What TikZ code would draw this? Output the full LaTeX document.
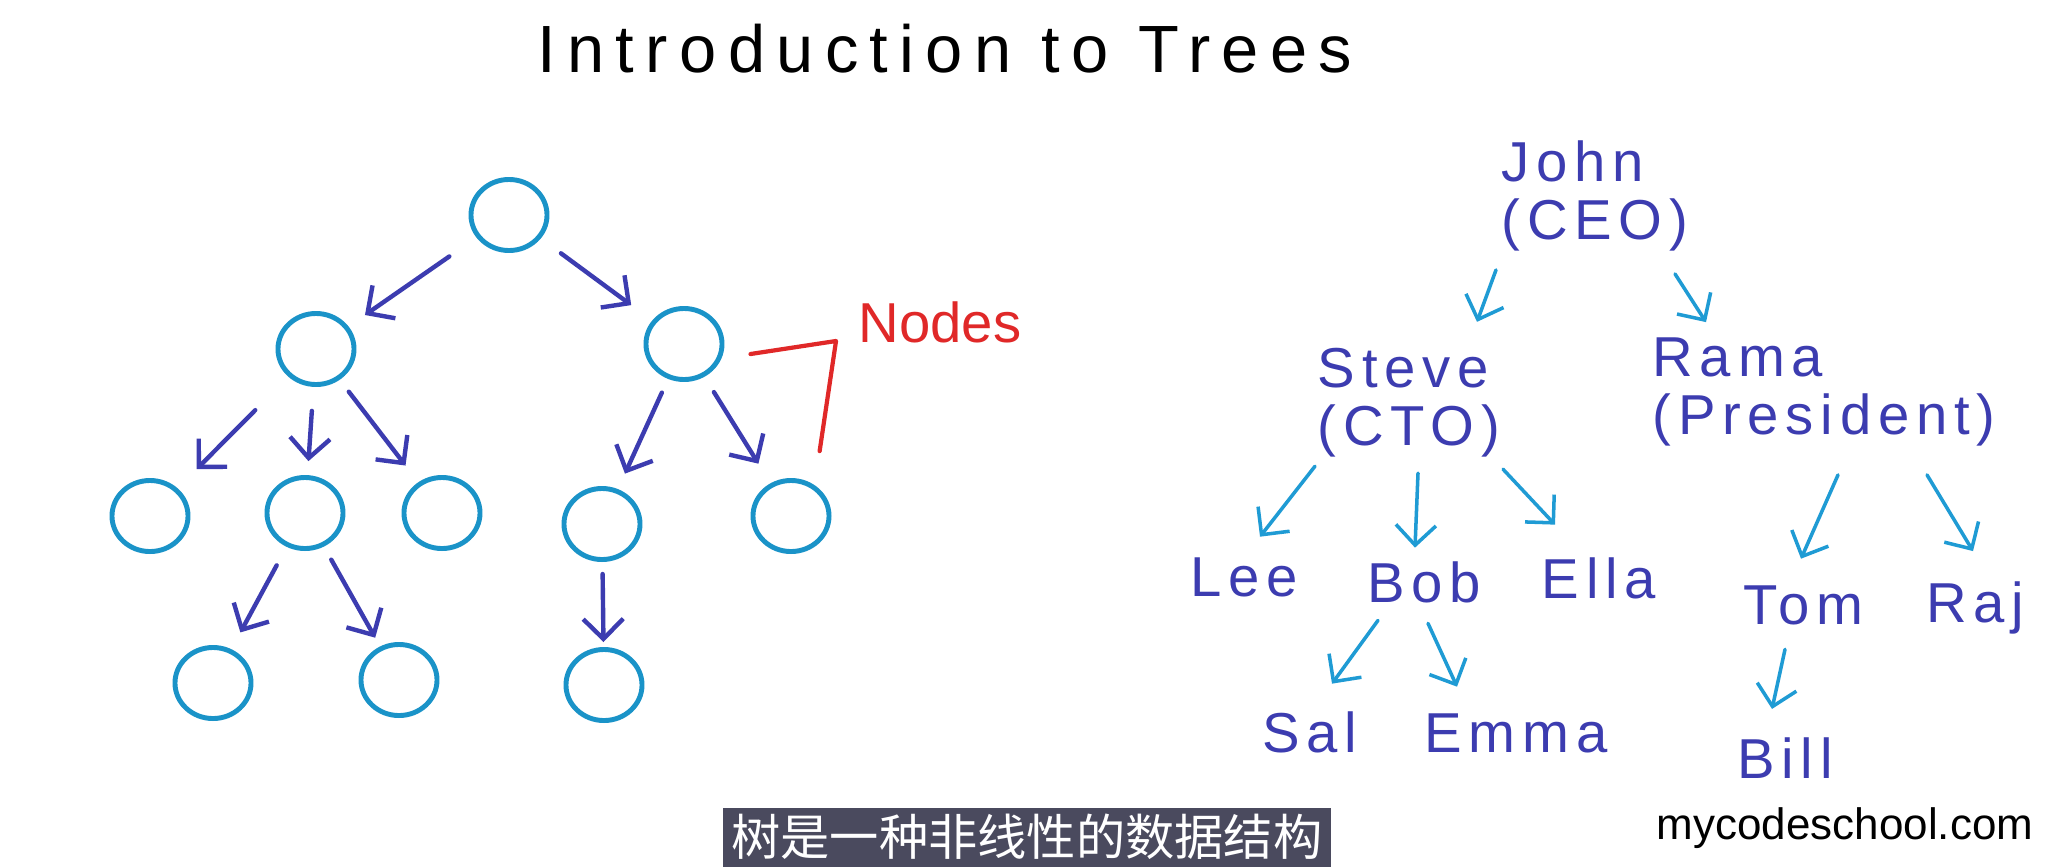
\documentclass[tikz,border=0pt]{standalone}
\usepackage{fontspec}
\setmainfont{Liberation Sans}
\newfontfamily\cjkfont{Noto Sans CJK SC}
\usetikzlibrary{arrows.meta,shapes.geometric}

\definecolor{ringblue}{HTML}{1A93C8}
\definecolor{inkblue}{HTML}{3C3CB0}
\definecolor{skyblue}{HTML}{1F9BD4}
\definecolor{markred}{HTML}{E02828}
\definecolor{capbar}{HTML}{4A4A5E}

\begin{document}
\begin{tikzpicture}[x=0.01cm, y=-0.01cm,
  ring/.style={ellipse, draw=ringblue, line width=1.4pt, minimum width=0.76cm,
    minimum height=0.71cm, inner sep=0pt},
  link/.style={-{Straight Barb[length=2mm,width=4mm]}, inkblue, line width=1.25pt,
    line cap=round},
  person/.style={text=inkblue, align=left, inner sep=0pt,
    font=\fontsize{16}{16.5}\selectfont\addfontfeature{LetterSpace=12}},
  report/.style={-{Straight Barb[length=2mm,width=4mm]}, skyblue, line width=1pt,
    line cap=round},
  heading/.style={font=\fontsize{19}{22}\selectfont\addfontfeature{LetterSpace=17}},
  marker/.style={markred, line width=1.2pt, line cap=round, line join=round},
  note/.style={text=markred, font=\fontsize{16}{18}\selectfont},
  subbar/.style={fill=capbar, text=white, inner sep=0pt, minimum width=6.08cm,
    minimum height=0.59cm, font=\cjkfont\fontsize{14}{16}\selectfont},
]
  \fill[white] (0,0) rectangle (2058,866);
  \useasboundingbox (0,0) rectangle (2058,866);

  % --- title ------------------------------------------------------------
  \node[heading] (title) at (945,49) {Introduction to Trees};

  % --- left tree: empty nodes --------------------------------------------
  \node[ring] (root) at (509,215) {};
  \node[ring] (l)    at (316,349) {};
  \node[ring] (r)    at (684,344) {};
  \node[ring] (ll)   at (150,516) {};
  \node[ring] (lm)   at (305,513) {};
  \node[ring] (lr)   at (442,513) {};
  \node[ring] (rl)   at (602,524) {};
  \node[ring] (rr)   at (791,516) {};
  \node[ring] (lml)  at (213,683) {};
  \node[ring] (lmr)  at (399,680) {};
  \node[ring] (rll)  at (604,685) {};
  % gaps (in mm) left free at the parent and the child
  \foreach \a/\b/\s/\e in {root/l/3.3/2, root/r/2.5/2.6, l/ll/4.7/2.7, l/lm/2.4/1.4,
      l/lr/1.5/2.1, r/rl/1.5/1.7, r/rr/1.8/2.3, lm/lml/2.1/1.9, lm/lmr/1.5/1,
      rl/rll/1.2/0.5}
    \draw[link, shorten <=\s mm, shorten >=\e mm] (\a) -- (\b);

  % --- the red marker ----------------------------------------------------
  \node[note] (nodes) at (940,322) {Nodes};
  \coordinate (kink) at (836,341);
  \draw[marker] ([xshift=0.26cm,yshift=-0.1cm]r.east) -- (kink)
    -- ([yshift=0.38cm]rr.north east);

  % --- right tree: who reports to whom -----------------------------------
  \node[person] (john)  at (1595,196) {John\\(CEO)};
  \node[person] (steve) at (1409,403) {Steve\\(CTO)};
  \node[person] (rama)  at (1824,392) {Rama\\(President)};
  \node[person] (lee)   at (1244,577) {Lee};
  \node[person] (bob)   at (1424,582) {Bob};
  \node[person] (ella)  at (1599,578) {Ella};
  \node[person] (tom)   at (1803,605) {Tom};
  \node[person] (raj)   at (1975,608) {Raj};
  \node[person] (sal)   at (1310,732) {Sal};
  \node[person] (emma)  at (1516,733) {Emma};
  \node[person] (bill)  at (1785,758) {Bill};
  \foreach \a/\b/\sx/\sy/\ex/\ey in {john/steve/-99/18/68/-26, john/rama/80/22/-118/-15,
      steve/lee/-94/8/16/-20, steve/bob/9/15/-9/-13, steve/ella/94/11/-44/-32,
      rama/tom/14/28/-2/-26, rama/raj/103/28/-2/-30,
      bob/sal/-46/17/22/-27, bob/emma/4/20/-59/-26, tom/bill/-18/24/-13/-28}
    \draw[report] ([shift={(\sx,\sy)}]\a.south) -- ([shift={(\ex,\ey)}]\b.north);

  % --- caption and site name ---------------------------------------------
  \node[subbar, anchor=north west] (caption) at (722,807) {树是一种非线性的数据结构};
  \node[font=\fontsize{12.5}{14}\selectfont] (site) at (1845,828) {mycodeschool.com};
\end{tikzpicture}
\end{document}
